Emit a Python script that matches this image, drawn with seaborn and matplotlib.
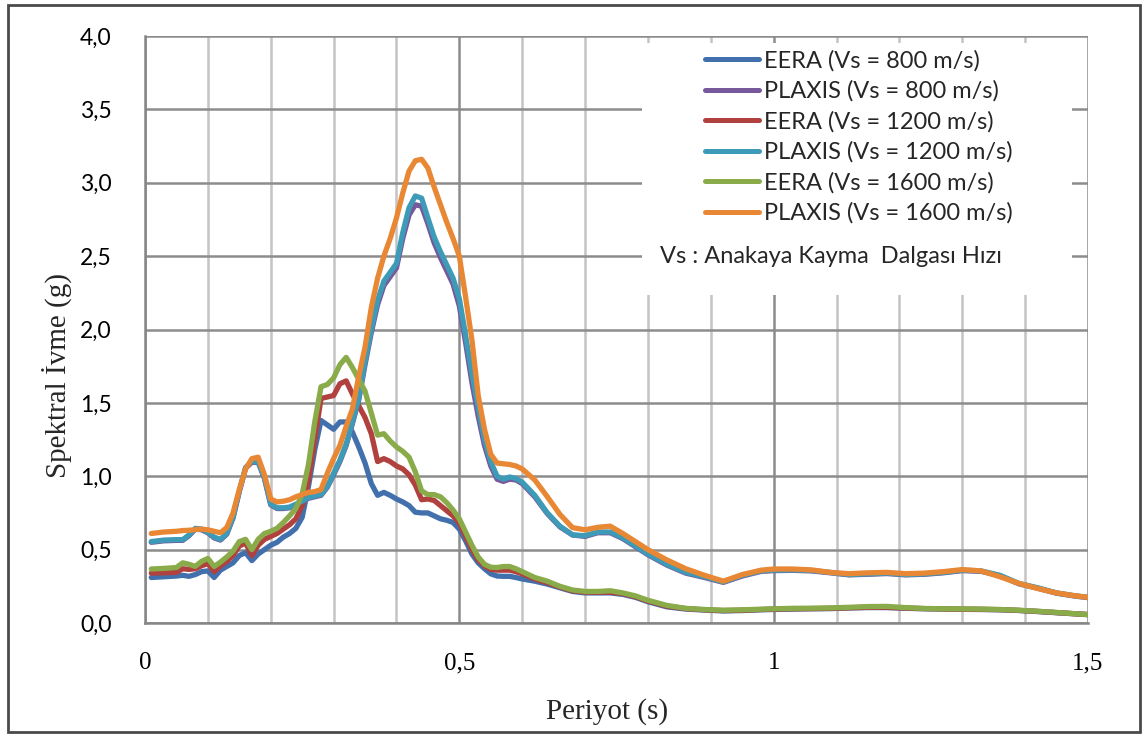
import numpy as np
import pandas as pd
import seaborn as sns
import matplotlib.pyplot as plt
from matplotlib.patches import Rectangle
from matplotlib.ticker import FixedLocator, MultipleLocator

# Period axis (s)
periyot = [0.01, 0.03, 0.05, 0.06, 0.07, 0.08, 0.09, 0.10, 0.11, 0.12, 0.13, 0.14, 0.15,
           0.16, 0.17, 0.18, 0.19, 0.20, 0.21, 0.22, 0.23, 0.24, 0.25, 0.26, 0.27, 0.28,
           0.29, 0.30, 0.31, 0.32, 0.33, 0.34, 0.35, 0.36, 0.37, 0.38, 0.39, 0.40, 0.41,
           0.42, 0.43, 0.44, 0.45, 0.46, 0.47, 0.48, 0.49, 0.50, 0.51, 0.52, 0.53, 0.54,
           0.55, 0.56, 0.57, 0.58, 0.59, 0.60, 0.62, 0.64, 0.66, 0.68, 0.70, 0.72, 0.74,
           0.76, 0.78, 0.80, 0.83, 0.86, 0.89, 0.92, 0.95, 0.98, 1.00, 1.03, 1.06, 1.09,
           1.12, 1.15, 1.18, 1.21, 1.24, 1.27, 1.30, 1.33, 1.36, 1.39, 1.42, 1.45, 1.48, 1.50]

# Spectral acceleration (g)
eera_800 = [0.31, 0.315, 0.32, 0.325, 0.318, 0.33, 0.35, 0.355, 0.31, 0.36, 0.385, 0.41, 0.46,
            0.48, 0.425, 0.47, 0.50, 0.53, 0.55, 0.585, 0.61, 0.645, 0.72, 0.93, 1.18, 1.38,
            1.35, 1.32, 1.37, 1.37, 1.30, 1.20, 1.09, 0.95, 0.87, 0.89, 0.87, 0.845, 0.825,
            0.80, 0.755, 0.75, 0.75, 0.73, 0.71, 0.70, 0.685, 0.64, 0.56, 0.47, 0.41, 0.37,
            0.335, 0.32, 0.318, 0.318, 0.31, 0.30, 0.285, 0.265, 0.24, 0.215, 0.205, 0.205, 0.205,
            0.195, 0.175, 0.145, 0.11, 0.095, 0.088, 0.082, 0.085, 0.09, 0.092, 0.095, 0.097, 0.098,
            0.102, 0.105, 0.105, 0.10, 0.097, 0.095, 0.093, 0.092, 0.09, 0.085, 0.078, 0.07, 0.062, 0.057]

plaxis_800 = [0.55, 0.56, 0.563, 0.563, 0.595, 0.64, 0.635, 0.615, 0.58, 0.565, 0.605, 0.715, 0.895,
              1.055, 1.095, 1.095, 0.985, 0.805, 0.78, 0.78, 0.785, 0.805, 0.825, 0.85, 0.86, 0.87,
              0.925, 1.01, 1.10, 1.21, 1.36, 1.52, 1.76, 1.98, 2.17, 2.30, 2.36, 2.42, 2.62,
              2.78, 2.85, 2.84, 2.72, 2.59, 2.49, 2.40, 2.31, 2.16, 1.91, 1.64, 1.41, 1.21,
              1.07, 0.98, 0.965, 0.98, 0.975, 0.95, 0.86, 0.745, 0.655, 0.60, 0.59, 0.615, 0.615,
              0.575, 0.52, 0.465, 0.395, 0.34, 0.31, 0.277, 0.32, 0.352, 0.357, 0.359, 0.355, 0.342,
              0.328, 0.332, 0.337, 0.328, 0.332, 0.342, 0.357, 0.352, 0.322, 0.267, 0.237, 0.203, 0.183, 0.173]

eera_1200 = [0.34, 0.342, 0.345, 0.37, 0.365, 0.37, 0.39, 0.405, 0.35, 0.39, 0.42, 0.46, 0.525,
             0.545, 0.46, 0.53, 0.57, 0.59, 0.61, 0.64, 0.67, 0.71, 0.80, 0.97, 1.25, 1.53,
             1.54, 1.55, 1.63, 1.65, 1.56, 1.48, 1.40, 1.29, 1.10, 1.12, 1.10, 1.07, 1.05,
             1.01, 0.94, 0.84, 0.845, 0.835, 0.80, 0.765, 0.73, 0.68, 0.59, 0.50, 0.43, 0.39,
             0.365, 0.36, 0.36, 0.36, 0.35, 0.335, 0.30, 0.275, 0.245, 0.22, 0.21, 0.21, 0.21,
             0.20, 0.18, 0.15, 0.115, 0.098, 0.09, 0.085, 0.087, 0.092, 0.095, 0.097, 0.098, 0.10,
             0.104, 0.107, 0.107, 0.102, 0.098, 0.096, 0.094, 0.093, 0.091, 0.086, 0.079, 0.071, 0.063, 0.058]

plaxis_1200 = [0.555, 0.565, 0.568, 0.568, 0.60, 0.645, 0.64, 0.62, 0.585, 0.57, 0.61, 0.72, 0.90,
               1.06, 1.10, 1.10, 0.99, 0.81, 0.785, 0.785, 0.79, 0.81, 0.83, 0.855, 0.865, 0.875,
               0.93, 1.02, 1.11, 1.22, 1.37, 1.53, 1.78, 2.00, 2.20, 2.33, 2.39, 2.45, 2.66,
               2.83, 2.91, 2.895, 2.76, 2.63, 2.53, 2.44, 2.35, 2.21, 1.96, 1.70, 1.47, 1.25,
               1.10, 1.00, 0.98, 0.995, 0.985, 0.96, 0.87, 0.75, 0.66, 0.60, 0.595, 0.62, 0.62,
               0.58, 0.525, 0.47, 0.40, 0.345, 0.315, 0.28, 0.325, 0.355, 0.36, 0.362, 0.358, 0.345,
               0.33, 0.335, 0.34, 0.33, 0.335, 0.345, 0.36, 0.355, 0.325, 0.27, 0.24, 0.205, 0.185, 0.175]

eera_1600 = [0.368, 0.372, 0.378, 0.41, 0.40, 0.386, 0.42, 0.44, 0.385, 0.415, 0.45, 0.49, 0.555,
             0.57, 0.50, 0.57, 0.61, 0.625, 0.645, 0.685, 0.73, 0.78, 0.88, 1.08, 1.37, 1.61,
             1.625, 1.67, 1.76, 1.81, 1.74, 1.66, 1.58, 1.43, 1.28, 1.29, 1.24, 1.20, 1.17,
             1.13, 1.03, 0.90, 0.875, 0.875, 0.86, 0.82, 0.77, 0.71, 0.62, 0.53, 0.45, 0.40,
             0.38, 0.378, 0.385, 0.385, 0.37, 0.35, 0.31, 0.285, 0.25, 0.225, 0.215, 0.215, 0.22,
             0.205, 0.185, 0.155, 0.12, 0.10, 0.092, 0.087, 0.09, 0.094, 0.097, 0.10, 0.101, 0.103,
             0.107, 0.112, 0.113, 0.105, 0.099, 0.097, 0.096, 0.095, 0.092, 0.087, 0.08, 0.072, 0.063, 0.057]

plaxis_1600 = [0.61, 0.62, 0.625, 0.63, 0.632, 0.636, 0.64, 0.635, 0.625, 0.615, 0.65, 0.75, 0.91,
               1.05, 1.12, 1.13, 1.01, 0.845, 0.825, 0.83, 0.84, 0.86, 0.875, 0.89, 0.895, 0.91,
               1.02, 1.12, 1.21, 1.34, 1.46, 1.68, 1.88, 2.15, 2.35, 2.50, 2.62, 2.76, 2.93,
               3.08, 3.15, 3.16, 3.10, 2.97, 2.85, 2.73, 2.62, 2.50, 2.22, 1.93, 1.55, 1.32,
               1.15, 1.09, 1.085, 1.08, 1.07, 1.05, 0.975, 0.86, 0.74, 0.65, 0.635, 0.652, 0.66,
               0.61, 0.555, 0.50, 0.43, 0.37, 0.325, 0.285, 0.33, 0.36, 0.368, 0.368, 0.362, 0.345,
               0.336, 0.342, 0.345, 0.336, 0.34, 0.35, 0.364, 0.355, 0.315, 0.27, 0.235, 0.205, 0.185, 0.175]

seri_adlari = ["EERA (Vs = 800 m/s)", "PLAXIS (Vs = 800 m/s)",
               "EERA (Vs = 1200 m/s)", "PLAXIS (Vs = 1200 m/s)",
               "EERA (Vs = 1600 m/s)", "PLAXIS (Vs = 1600 m/s)"]
seri_verileri = [eera_800, plaxis_800, eera_1200, plaxis_1200, eera_1600, plaxis_1600]
renkler = ["#4270AC", "#76589B", "#B0413E", "#3E9BB8", "#8AAB4A", "#E88835"]

df = pd.concat(
    [pd.DataFrame({"Periyot": periyot, "SA": v, "Seri": ad})
     for ad, v in zip(seri_adlari, seri_verileri)],
    ignore_index=True)

sns.set_style("white")
plt.rcParams["font.family"] = ["Lato", "DejaVu Sans"]

W, H = 1148, 740
fig = plt.figure(figsize=(W / 100, H / 100), dpi=100)
ax = fig.add_axes([145 / W, 1 - 623 / H, (1088 - 145) / W, (623 - 36) / H])

sns.lineplot(data=df, x="Periyot", y="SA", hue="Seri", hue_order=seri_adlari,
             palette=dict(zip(seri_adlari, renkler)), estimator=None, sort=False,
             linewidth=3.8, solid_capstyle="round", solid_joinstyle="round",
             legend=False, ax=ax, zorder=3)

ax.set_xlim(0, 1.5)
ax.set_ylim(0, 4.0)

# ticks and grid
ax.xaxis.set_major_locator(FixedLocator([0, 0.5, 1.0, 1.5]))
ax.xaxis.set_minor_locator(MultipleLocator(0.1))
ax.set_xticklabels(["0", "0,5", "1", "1,5"], fontfamily="Liberation Serif", fontsize=18)
ax.set_yticks(np.arange(0, 4.01, 0.5))
ax.set_yticklabels([f"{v:.1f}".replace(".", ",") for v in np.arange(0, 4.01, 0.5)],
                   fontsize=16.5)
ax.tick_params(axis="x", which="both", direction="out", length=7, width=1.5,
               color="#868686", pad=14, labelcolor="black")
ax.tick_params(axis="y", which="major", direction="out", length=8, width=1.5,
               color="#868686", pad=16, labelcolor="black")
ax.grid(which="major", axis="both", color="#8C8C8C", linewidth=1.8)
ax.grid(which="minor", axis="x", color="#C4C4C4", linewidth=1.8)
ax.set_axisbelow(True)
for s in ["top", "right"]:
    ax.spines[s].set_visible(False)
for s in ["left", "bottom"]:
    ax.spines[s].set_color("#868686")
    ax.spines[s].set_linewidth(1.8)
ax.set_xlabel("")
ax.set_ylabel("")

# white panel holding the legend and the note
ax.add_patch(Rectangle(((642 - 145) / 943, 1 - (295 - 36) / 587),
                       (1072 - 642) / 943, (295 - 43) / 587,
                       transform=ax.transAxes, facecolor="white", edgecolor="none",
                       zorder=2))

leg = ax.legend(handles=ax.get_lines()[:6], labels=seri_adlari, loc="upper left",
                bbox_to_anchor=(705 / W, 1 - 50 / H), bbox_transform=fig.transFigure,
                frameon=False, fontsize=17, handlelength=2.3, handletextpad=0.2,
                labelspacing=0.38, borderpad=0, borderaxespad=0)
for line in leg.get_lines():
    line.set_linewidth(3.6)
leg.set_zorder(4)

ax.text((660 - 145) / 943, 1 - (257 - 36) / 587, "Vs : Anakaya Kayma  Dalgası Hızı",
        transform=ax.transAxes, fontsize=17, va="center", ha="left", zorder=4)

# axis titles
fig.text(607 / W, 1 - 712 / H, "Periyot (s)", fontfamily="Liberation Serif",
         fontsize=21, ha="center", va="center")
fig.text(57 / W, 1 - 375 / H, "Spektral İvme (g)", fontfamily="Liberation Serif",
         fontsize=21, ha="center", va="center", rotation=90)

# outer frame
fig.patches.append(Rectangle((8 / W, 1 - 732 / H), (1140 - 8) / W, (732 - 5) / H,
                             transform=fig.transFigure, fill=False,
                             edgecolor="#4A4A4A", linewidth=2))

fig.savefig("out.png", dpi=100)
